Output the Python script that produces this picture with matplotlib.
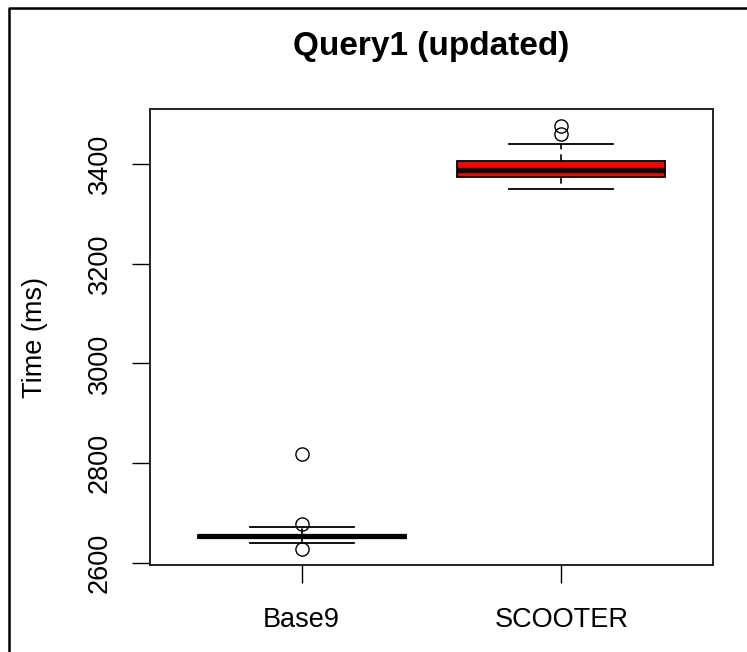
import matplotlib
matplotlib.use("Agg")
import matplotlib.pyplot as plt
from matplotlib.lines import Line2D

plt.rcParams['font.family'] = ['Liberation Sans', 'DejaVu Sans']

categories = ["Base9", "SCOOTER"]
q1 = [2650, 3373]
medians = [2654, 3387]
q3 = [2657, 3405]
whisker_lo = [2640, 3349]
whisker_hi = [2673, 3440]
outliers = [[2819, 2678, 2628], [3475, 3460]]
box_colors = ["red", "red"]
yticks = [2600, 2800, 3000, 3200, 3400]

W, H = 747, 652
fig = plt.figure(figsize=(W / 100, H / 100), dpi=100)
ax = fig.add_axes([150 / W, 1 - 565 / H, (713 - 150) / W, (565 - 109) / H])

stats = []
for i in range(len(categories)):
    stats.append(dict(label=categories[i], q1=q1[i], med=medians[i], q3=q3[i],
                      whislo=whisker_lo[i], whishi=whisker_hi[i], fliers=outliers[i]))

bp = ax.bxp(stats, positions=[1, 2], widths=0.8, capwidths=0.4, patch_artist=True,
            boxprops=dict(edgecolor='black', linewidth=1.3),
            medianprops=dict(color='black', linewidth=3.8, solid_capstyle='butt'),
            whiskerprops=dict(color='black', linewidth=1.2, linestyle=(0, (4, 3))),
            capprops=dict(color='black', linewidth=1.3),
            flierprops=dict(marker='o', markerfacecolor='none', markeredgecolor='black',
                            markersize=9.5, markeredgewidth=1.0))
for patch, c in zip(bp['boxes'], box_colors):
    patch.set_facecolor(c)

ax.set_xlim(0.417, 2.583)
ax.set_ylim(2596, 3510)
ax.set_yticks(yticks)
ax.set_yticklabels([str(v) for v in yticks], rotation=90, va='center')
ax.set_xticks([1, 2])
ax.set_xticklabels(categories)
ax.tick_params(axis='both', length=13, width=1.0, labelsize=19.5, color='black')
ax.tick_params(axis='y', pad=14)
ax.tick_params(axis='x', pad=17)
for s in ax.spines.values():
    s.set_linewidth(1.4)
    s.set_color('#222222')

fig.text(431.5 / W, 1 - 47 / H, "Query1 (updated)", ha='center', va='center',
         fontsize=24, fontweight='bold')
fig.text(35 / W, 1 - 337 / H, "Time (ms)", ha='center', va='center',
         rotation=90, fontsize=19.5)

fig.add_artist(Line2D([8.5 / W, 8.5 / W, 1.0], [0.0, 1 - 7.5 / H, 1 - 7.5 / H],
                      transform=fig.transFigure, color='black', linewidth=1.8))

fig.savefig("out.png", dpi=100)
